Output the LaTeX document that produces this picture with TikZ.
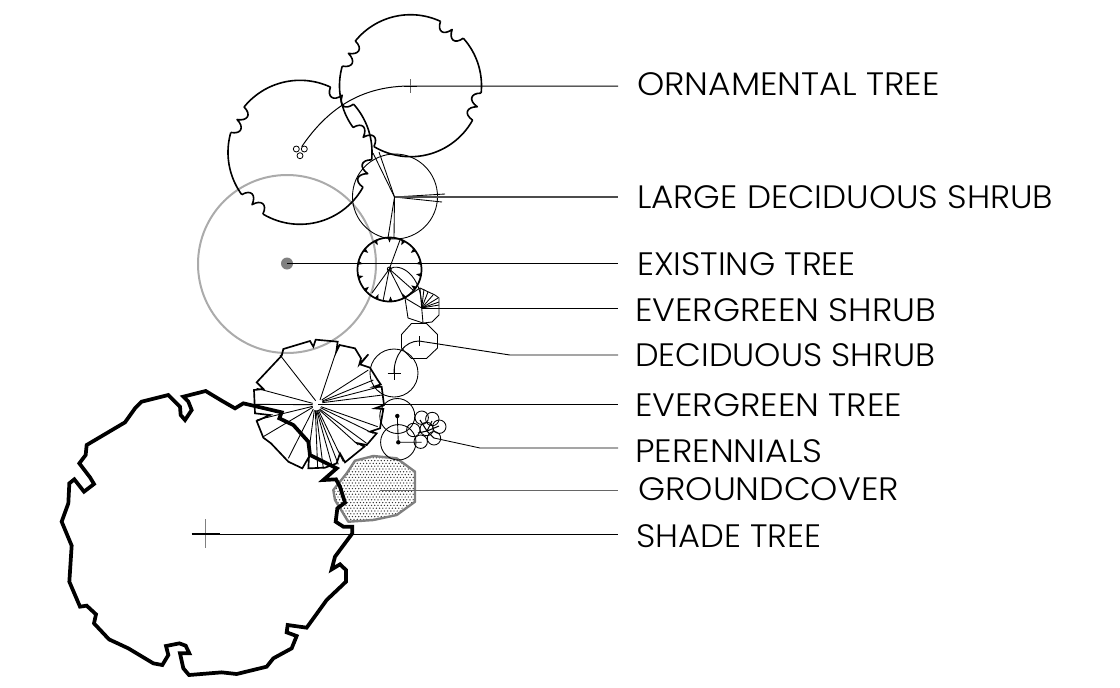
\documentclass[tikz,border=0pt]{standalone}
\usepackage{fontspec}
\setmainfont[FakeStretch=1.07]{Poppins Light}
\definecolor{lgray}{HTML}{ABABAB}
\definecolor{mgray}{HTML}{808080}
\tikzset{
  thin line/.style={line width=0.65pt,black},
  tree line/.style={line width=1.2pt,black,line join=round},
  label text/.style={anchor=west,inner ysep=0pt,inner xsep=14.25pt,font=\fontsize{24.3}{28}\selectfont,text=black},
  leader/.style={line width=0.75pt,black},
}
\newcommand\orntree[3]{%
  \begin{scope}[shift={(#1,#2)}]
    \foreach \a/\b in {29/121,144/196,219/295,318/366}{%
      \draw[tree line] plot[domain=\a:\b,samples=30,smooth] ({#3*cos(\x)},{#3*sin(\x)});}
    \foreach \a/\b in {6/29,121/144,196/219,295/318}{%
      \pgfmathsetmacro\ma{(\a+\b)/2}
      \pgfmathsetmacro\ra{#3-11}
      \pgfmathsetmacro\rb{#3-1}
      \pgfmathsetmacro\ca{\a+1}
      \pgfmathsetmacro\cb{\ma-3}
      \pgfmathsetmacro\cc{\ma+3}
      \pgfmathsetmacro\cd{\b-1}
      \draw[tree line] (\a:#3) .. controls (\ca:\ra) and (\cb:\ra) .. (\ma:\rb)
        .. controls (\cc:\ra) and (\cd:\ra) .. (\b:#3);}
  \end{scope}}
\begin{document}
\begin{tikzpicture}[x=0.75pt,y=-0.75pt]
\useasboundingbox (0,0) rectangle (1120,687);
% labels
\node[label text] (lorn) at (618,84) {ORNAMENTAL TREE};
\node[label text] (llds) at (618,197) {\scalebox{.985}[1]{LARGE DECIDUOUS SHRUB}};
\node[label text] (lext) at (618,264) {\scalebox{.97}[1]{EXISTING TREE}};
\node[label text,inner xsep=12.75pt] (lesh) at (618,310) {EVERGREEN SHRUB};
\node[label text,inner xsep=12.75pt] (ldsh) at (618,355) {\scalebox{.965}[1]{DECIDUOUS SHRUB}};
\node[label text,inner xsep=12.75pt] (letr) at (618,405) {EVERGREEN TREE};
\node[label text,inner xsep=12.75pt] (lper) at (618,451) {PERENNIALS};
\node[label text,inner xsep=15pt] (lgrc) at (618,489) {GROUNDCOVER};
\node[label text,inner xsep=13.5pt] (lsha) at (618,536) {\scalebox{.972}[1]{SHADE TREE}};
% anchors
\coordinate (corn) at (410.5,86);
\coordinate (cornb) at (301.7,146.7);
\coordinate (clds) at (394.5,197);
\coordinate (cext) at (287,263.5);
\coordinate (cesh) at (421.7,308);
\coordinate (cdsh) at (419,341);
\coordinate (cdsb) at (394,373);
\coordinate (cdsk) at (510,355);
\coordinate (cetr) at (318,404);
\coordinate (cper) at (434,438);
\coordinate (cpek) at (480,448);
\coordinate (cgrc) at (380,490.5);
\coordinate (csha) at (205.7,534);
% groundcover
\begin{scope}
\clip (355,460.7) -- (373.3,456) -- (396.7,458.3) -- (415,471.7) -- (415,501.7) -- (396.7,515) -- (373.3,520) -- (348.3,521.7) -- (335,500) -- (333.3,490) -- (346.7,473.3) -- cycle;
\foreach \j in {0,...,24}{
  \pgfmathsetmacro\yy{455+\j*2.8}
  \pgfmathsetmacro\xo{330+mod(\j,2)*1.6}
  \foreach \i in {0,...,27}{
    \fill[black!80] ({\xo+\i*3.2},\yy) circle[radius=0.72];
  }}
\end{scope}
\draw[draw=mgray,line width=1.8pt,line join=round]
  (355,460.7) -- (373.3,456) -- (396.7,458.3) -- (415,471.7) -- (415,501.7) -- (396.7,515) -- (373.3,520) -- (348.3,521.7) -- (335,500) -- (333.3,490) -- (346.7,473.3) -- cycle;
\draw[line width=0.95pt,black!60] (cgrc) -- (cgrc -| lgrc.west);
% existing tree
\draw[lgray,line width=1.5pt] (287,264) circle[radius=89];
\fill[mgray] (cext) circle[radius=6];
\draw[leader] (cext) -- (cext -| lext.west);
% ornamental
\orntree{410.5}{85.7}{71}
\orntree{300}{152.3}{72}
\foreach \p in {(296.3,149),(304.3,149),(300,155.7)}{\draw[line width=0.6pt] \p circle[radius=3];}
\draw[leader] (cornb) .. controls (330,105) and (365,86) .. (corn) -- (corn -| lorn.west);
\draw[line width=0.8pt,black!60] (410.5,79) -- (410.5,93);
\draw[line width=0.7pt] (404,86) -- (417,86);
% large deciduous shrub
\draw[thin line] (395,196.5) circle[radius=42.5];
\foreach \p in {(373,153),(379,152),(445,194),(442,202),(388,238),(394,238)}{\draw[thin line] (clds) -- \p;}
\draw[line width=1pt,black!70] (clds) -- (clds -| llds.west);
% small tree with inward ticks
\begin{scope}[shift={(389.5,269.5)}]
\draw[line width=1.3pt] (0,0) circle[radius=32];
\foreach \t in {10,36,...,360}{
  \pgfmathsetmacro\ta{\t-3.5}
  \pgfmathsetmacro\tb{\t+3.5}
  \fill (\ta:32) -- (\t:27) -- (\tb:32) -- cycle;}
\end{scope}
\draw[thin line] (389.3,269) circle[radius=2];
\foreach \p in {(400,240),(383,301),(372,293),(404,298),(413,290)}{\draw[thin line] (389.3,269) -- \p;}
\draw[thin line] (389.3,269) .. controls (400,262) and (422,275) .. (cesh);
% evergreen shrub
\draw[thin line,line join=round] (405,298) -- (420,288) -- (435,295) -- (439,298) -- (439,315) -- (432,322) -- (423,323) -- (408,318) -- cycle;
\foreach \p in {(420,288),(424,289),(428,292),(433,295),(438,298),(439,302),(439,305),(423,323),(405,298)}{\draw[thin line] (cesh) -- \p;}
\draw[thin line] (cesh) -- (cesh -| lesh.west);
% deciduous shrub
\draw[thin line,line join=round] (411.5,323.5) -- (426.5,323.5) -- (437.5,334.5) -- (437.5,348) -- (426.5,358.5) -- (411.5,358.5) -- (401.5,348) -- (401.5,334.5) -- cycle;
\draw[thin line] (394,373) circle[radius=24];
\draw[line width=0.7pt] (387.5,373) -- (400.5,373) (394,366.5) -- (394,379.5);
\draw[line width=0.7pt] (419,336) -- (419,346);
\draw[line width=0.7pt] (cdsb) .. controls (394,355) and (405,341) .. (cdsh) -- (cdsk) -- (cdsk -| ldsh.west);
% evergreen tree
\begin{scope}[shift={(245,335)},x=0.25pt,y=-0.25pt]
\draw[line width=1.25pt,line join=miter]
 (110,62)--(115,42)--(195,18)--(205,35)--(212,14)--(278,20)--(274,50)--(284,30)--(330,40)--(348,70)--(343,88)--(370,58)--(345,88)--(375,98)--(398,135)--(407,148)--(388,155)--(410,155)--(417,210)--(390,220)--(415,222)--(405,280)--(375,290)--(395,295)--(365,330)--(340,325)--(358,335)--(300,382)--(285,355)--(275,385)--(240,398)--(190,400)--(192,365)--(172,400)--(130,380)--(78,325)--(55,308)--(35,258)--(75,240)--(30,235)--(27,165)--(55,162)--(35,142)--cycle;
\foreach \a/\b/\c/\d in {212/197/105/60,225/195/275/45,230/195/370/105,232/198/385/135,232/200/405/155,232/203/412/180,228/215/398/275,226/218/385/295,224/222/365/325,222/224/340/330,220/225/295/380,217/226/280/388,215/226/262/395,213/226/235/400,211/226/218/400,208/225/190/360,205/222/130/370,203/217/55/305,203/214/35/255,203/209/30/208,203/205/35/160}{\draw[thin line] (\a,\b) -- (\c,\d);}
\end{scope}
\draw[leader] (cetr) -- (cetr -| letr.west);
% perennials
\draw[thin line] (397.3,416) circle[radius=17.5];
\draw[thin line] (398.3,442.3) circle[radius=17.7];
\fill (397.3,416) circle[radius=2.2] (398.3,442.3) circle[radius=2.2];
\draw[thin line] (397.3,416) -- (398.3,442.3) -- (421.7,442.3);
\foreach \x/\y in {421.7/417.7,432.3/419,439.3/426.7,426.7/429,413.3/430,420.7/441.7,434/438.3}{\draw[thin line] (\x,\y) circle[radius=6.7];}
\foreach \x/\y in {420/420,432/421,439/426,434/438,418/433}{\draw[line width=0.8pt] (427,431) -- (\x,\y);}
\draw[thin line] (cper) -- (cpek) -- (cpek -| lper.west);
% shade tree
\begin{scope}[shift={(40,380)},x=0.25pt,y=-0.25pt]
\draw[line width=2.8pt,line join=miter]
 (610,70)--(585,85)--(545,62)--(497,33)--(430,50)--(445,65)--(455,90)--(435,120)--(422,105)--(420,80)--(385,45)--(305,65)--(285,85)--(255,127)--(140,195)--(137,225)--(118,250)--(150,292)--(162,312)--(132,335)--(103,298)--(88,310)--(85,370)--(65,425)--(95,497)--(88,605)--(120,680)--(140,677)--(168,703)--(162,730)--(207,778)--(265,805)--(340,850)--(367,855)--(385,825)--(378,798)--(418,790)--(437,797)--(448,820)--(420,820)--(430,865)--(447,885)--(545,877)--(590,882)--(680,860)--(700,835)--(755,805)--(770,768)--(740,757)--(743,735)--(800,743)--(860,660)--(918,605)--(918,570)--(900,553)--(875,568)--(885,530)--(937,460)--(937,440)--(910,440)--(887,425)--(892,385)--(915,368)--(900,320)--(888,298)--(850,300)--(890,265)--(810,225)--(805,185)--(760,135)--(718,115)--(725,97)--cycle;
\end{scope}
\draw[line width=0.8pt,mgray] (205.7,519) -- (205.7,548);
\draw[line width=0.8pt] (191.5,534) -- (220,534);
\draw[leader] (csha) -- (csha -| lsha.west);
\end{tikzpicture}
\end{document}
